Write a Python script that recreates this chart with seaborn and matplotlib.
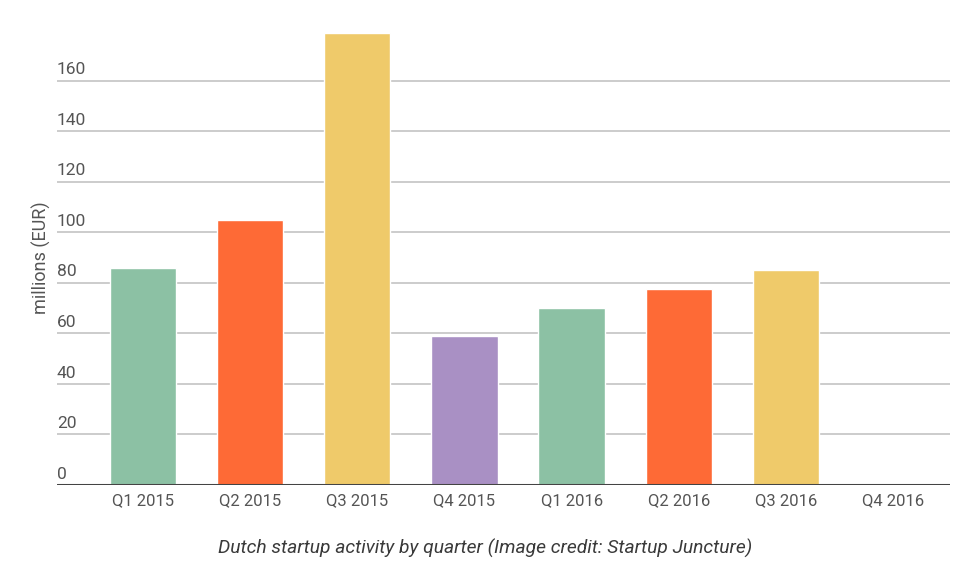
import matplotlib
matplotlib.use("Agg")
import matplotlib.pyplot as plt
import matplotlib.transforms as mtransforms
import seaborn as sns
import pandas as pd

# Data
quarters = ['Q1 2015', 'Q2 2015', 'Q3 2015', 'Q4 2015',
            'Q1 2016', 'Q2 2016', 'Q3 2016', 'Q4 2016']
funding = [86, 105, 179, 59, 70, 77.5, 85, 0]
bar_colors = ['#8cc1a4', '#fe6a36', '#efca6a', '#a990c4',
              '#8cc1a4', '#fe6a36', '#efca6a', '#a990c4']
y_ticks = [0, 20, 40, 60, 80, 100, 120, 140, 160]

df = pd.DataFrame({'Quarter': quarters, 'Funding': funding})

sns.set_style("white")
plt.rcParams['font.family'] = ['Roboto', 'DejaVu Sans']

fig = plt.figure(figsize=(9.7, 5.65), dpi=100)
ax = fig.add_axes([57 / 970, 80 / 565, 893 / 970, 455 / 565])

sns.barplot(data=df, x='Quarter', y='Funding', hue='Quarter',
            palette=bar_colors, legend=False, width=0.62,
            saturation=1, ax=ax, zorder=3)

ax.set_ylim(0, 180)
ax.set_xlim(-0.8, 7.53)

# gridlines
for t in y_ticks[1:]:
    ax.axhline(t, color='#cccccc', lw=1.4, zorder=1)
ax.axhline(0, color='#444444', lw=2.2, zorder=4)

# y tick labels sit above the gridlines, left aligned
ax.set_yticks(y_ticks)
ax.set_yticklabels([])
ax.tick_params(axis='y', length=0)
trans = mtransforms.blended_transform_factory(ax.transAxes, ax.transData)
for t in y_ticks:
    ax.text(0, t + 1.3, str(t), transform=trans, ha='left', va='bottom',
            fontsize=12.5, color='#555555')

ax.tick_params(axis='x', length=0, pad=6, labelsize=12, labelcolor='#555555')
ax.set_xlabel('')
ax.set_ylabel('millions (EUR)', fontsize=13, color='#555555')
ax.yaxis.set_label_coords(-0.007, 0.5)

for side in ['top', 'right', 'left', 'bottom']:
    ax.spines[side].set_visible(False)

fig.text(0.5, 17 / 565, 'Dutch startup activity by quarter (Image credit: Startup Juncture)',
         ha='center', va='center', fontsize=13.9, style='italic',
         fontweight='normal', color='#3a3a3a')

fig.savefig('out.png', dpi=100)
